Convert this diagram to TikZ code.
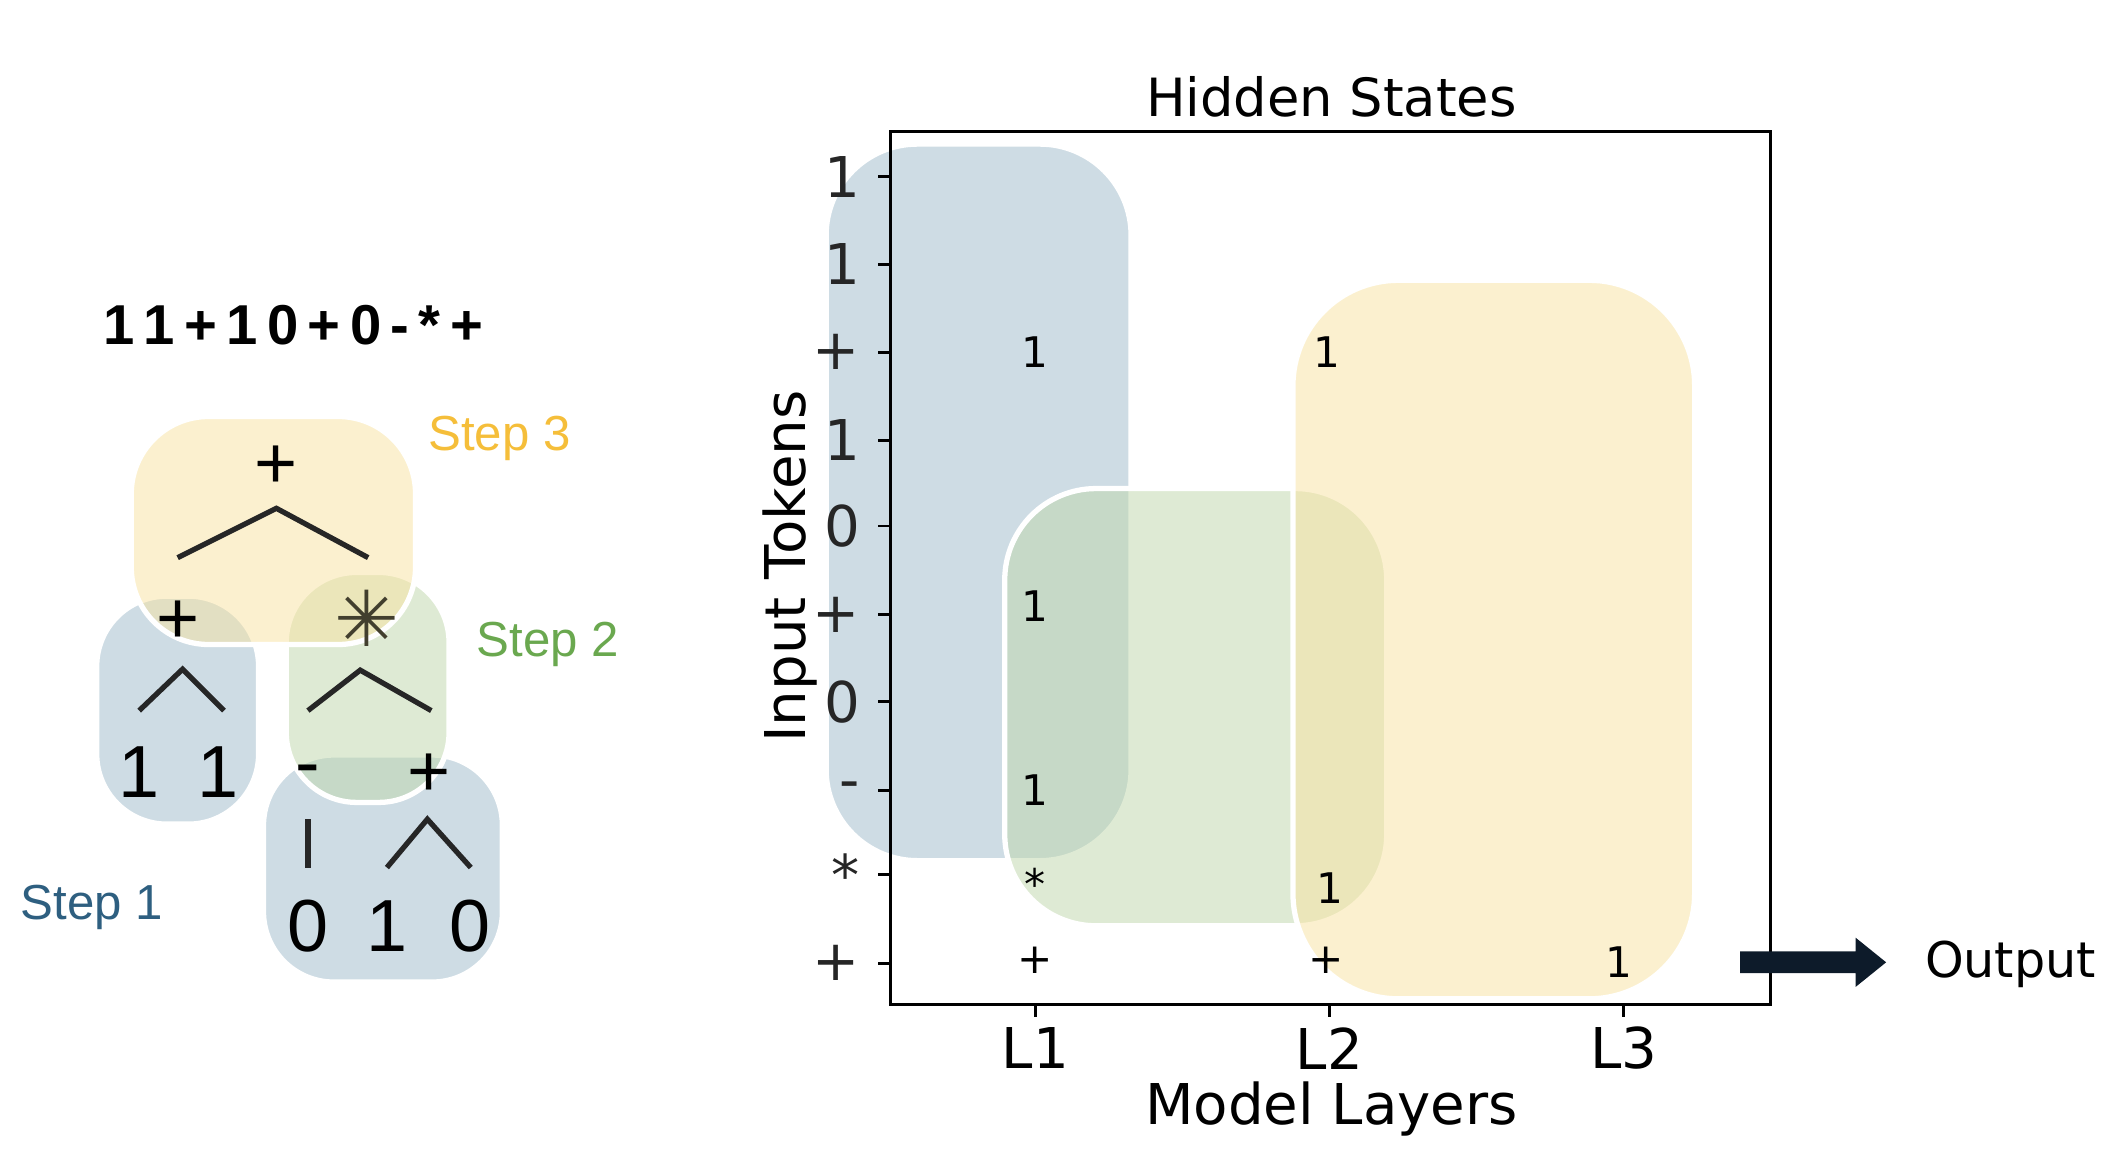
\documentclass[tikz,border=0pt]{standalone}
\usepackage{fontspec}
\setmainfont{DejaVu Sans}
\newfontfamily\arialf{Liberation Sans}
\usetikzlibrary{arrows.meta}
\definecolor{bbox}{RGB}{157,185,202}
\definecolor{gbox}{RGB}{190,214,170}
\definecolor{ybox}{RGB}{248,226,160}
\definecolor{stepy}{RGB}{245,190,58}
\definecolor{stepg}{RGB}{106,168,79}
\definecolor{stepb}{RGB}{46,95,128}
\definecolor{navy}{RGB}{13,27,42}
\tikzset{
 hl/.style={draw=white,line width=1.5pt,fill opacity=0.5,rounded corners=#1},
 hl/.default=20pt,
 tk/.style={font=\fontsize{16}{18}\selectfont,anchor=east,text=black!85},
 cell/.style={font=\fontsize{12}{14}\selectfont},
 tree/.style={font=\arialf\fontsize{21}{24}\selectfont},
 branch/.style={line width=1.5pt,draw=black!85},
 steplab/.style={font=\arialf\fontsize{14}{16}\selectfont}
}
\begin{document}
\begin{tikzpicture}[x=0.00987cm,y=-0.00987cm]
\useasboundingbox (0,0) rectangle (2150,1191.5);
% ---------- left panel ----------
\node[font=\arialf\bfseries\fontsize{16}{18}\selectfont] (formula) at (297,329) {1\,1\,+\,1\,0\,+\,0\,-\,*\,+};
\fill[bbox,hl] (98,604) rectangle (262,835);
\fill[bbox,hl] (267,765) rectangle (509,995);
\fill[gbox,hl] (290,580) rectangle (455,813);
\fill[ybox,hl=22pt] (133,422) rectangle (421,653);
\node[tree] (tplus) at (280,473) {+};
\coordinate (ta) at (280,515);
\draw[branch] (180,565) -- (ta) -- (373,565);
\node[tree] (lplus) at (180,630) {+};
\node[font=\fontsize{22}{24}\selectfont,text=black!70!olive] (star) at (372,626) {✳};
\draw[branch] (141,720) -- (185,678) -- (227,720);
\node[tree] (one1) at (141,782) {1};
\node[tree] (one2) at (221,782) {1};
\draw[branch] (312,720) -- (365,679) -- (437,720);
\node[tree] (minus) at (312,786) {-};
\node[tree] (rplus) at (435,785) {+};
\draw[branch] (312,830) -- (312,879);
\draw[branch] (392,879) -- (433,830) -- (477,879);
\node[tree] (z1) at (312,938) {0};
\node[tree] (o3) at (392,938) {1};
\node[tree] (z2) at (476,938) {0};
\node[steplab,text=stepy] (s3) at (506,444) {Step 3};
\node[steplab,text=stepg] (s2) at (555,653) {Step 2};
\node[steplab,text=stepb] (s1) at (93,919) {Step 1};
% ---------- right panel ----------
\fill[bbox,hl=26pt] (837,146) rectangle (1146,872);
\fill[gbox,hl=26pt] (1018,495) rectangle (1405,938);
\fill[ybox,hl=30pt] (1310,284) rectangle (1717,1012);
\draw[line width=0.8pt] (902,133) rectangle (1794,1018);
\foreach \y/\t in {179/1,268/1,357/+,446/1,533/0,623/+,711/0,801/-,886/*,976/+}{
  \draw[line width=0.8pt] (902,\y) -- (890,\y);
  \node[tk] at (884,\y) {\t};
}
\foreach \x/\t in {1049/L1,1347/L2,1645/L3}{
  \draw[line width=0.8pt] (\x,1018) -- (\x,1030);
  \node[font=\fontsize{16}{18}\selectfont] at (\x,1062) {\t};
}
\node[font=\fontsize{15}{18}\selectfont] (title) at (1349,98) {Hidden States};
\node[font=\fontsize{16}{18}\selectfont] (xl) at (1349,1124) {Model Layers};
\node[font=\fontsize{16}{18}\selectfont,rotate=90] (yl) at (800,574) {Input Tokens};
\node[cell] at (1049,357) {1};
\node[cell] at (1049,614) {1};
\node[cell] at (1049,801) {1};
\node[cell] at (1049,895) {*};
\node[cell] at (1049,973) {+};
\node[cell] at (1344,357) {1};
\node[cell] at (1347,900) {1};
\node[cell] at (1344,973) {+};
\node[cell] at (1640,975) {1};
\node[font=\fontsize{14}{16}\selectfont] (out) at (2037,977) {Output};
\fill[navy] (1763,964) -- (1880,964) -- (1880,950) -- (1911,975) -- (1880,1000) -- (1880,986) -- (1763,986) -- cycle;
\end{tikzpicture}
\end{document}
